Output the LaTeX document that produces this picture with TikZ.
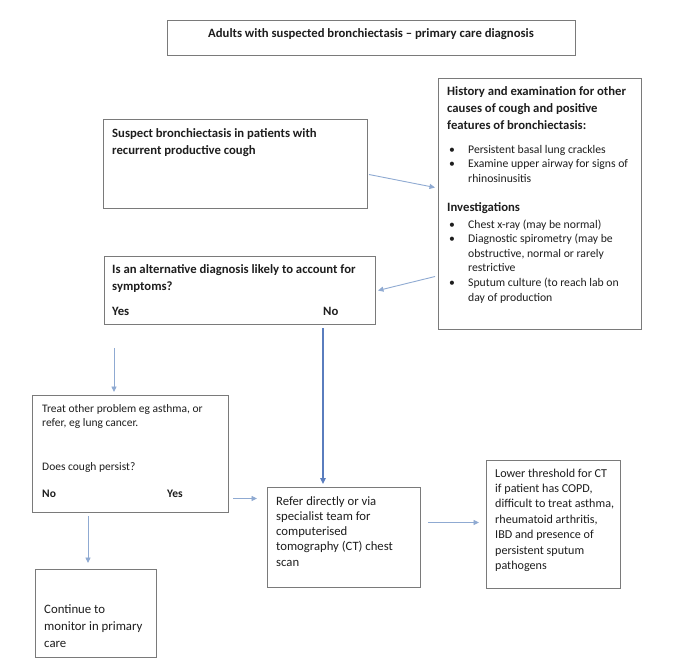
\documentclass[tikz,border=0pt]{standalone}
\usepackage{fontspec}
\setmainfont{Carlito}
\usetikzlibrary{arrows.meta}
\definecolor{boxgray}{HTML}{7A7A7A}
\definecolor{arrowblue}{HTML}{8FAAD2}
\definecolor{arrowdark}{HTML}{5A7DBE}
\definecolor{txt}{HTML}{1E1E1E}
\newcommand{\bitem}[1]{\makebox[19pt][l]{\textbullet}#1}
\newcommand{\bcont}[1]{\hspace*{19pt}#1}
\begin{document}
\begin{tikzpicture}[x=1pt,y=-1pt,
  box/.style={draw=boxgray, line width=1pt, inner sep=0pt, anchor=north west},
  arr/.style={draw=arrowblue, line width=0.9pt, -{Triangle[length=5.5pt,width=5pt]}},
  arrdark/.style={draw=arrowdark, line width=1.5pt, -{Triangle[length=6pt,width=5.5pt]}},
  bold12/.style={font=\fontsize{12.7}{17}\selectfont\bfseries, align=left, inner sep=0pt, anchor=base west, text=txt},
  reg11/.style={font=\fontsize{11.7}{14.6}\selectfont, align=left, inner sep=0pt, anchor=base west, text=txt},
  regtreat/.style={font=\fontsize{11.5}{14}\selectfont, align=left, inner sep=0pt, anchor=base west, text=txt},
  reg12/.style={font=\fontsize{12.7}{15.3}\selectfont, align=left, inner sep=0pt, anchor=base west, text=txt},
  reglow/.style={font=\fontsize{12.1}{15.4}\selectfont, align=left, inner sep=0pt, anchor=base west, text=txt},
  regcont/.style={font=\fontsize{12.8}{17}\selectfont, align=left, inner sep=0pt, anchor=base west, text=txt},
  boldtreat/.style={font=\fontsize{11.5}{14}\selectfont\bfseries, inner sep=0pt, anchor=base west, text=txt}
]
\useasboundingbox (0,0) rectangle (690,665);
\fill[white] (0,0) rectangle (690,665);

% boxes
\node[box, minimum width=408pt, minimum height=35pt] (title) at (167,20) {};
\node[box, minimum width=203pt, minimum height=251pt] (hist) at (438,78) {};
\node[box, minimum width=264pt, minimum height=89pt] (susp) at (103,119) {};
\node[box, minimum width=271pt, minimum height=68pt] (alt) at (104,256) {};
\node[box, minimum width=196pt, minimum height=117pt] (treat) at (32,395) {};
\node[box, minimum width=153pt, minimum height=100pt] (refer) at (267,487) {};
\node[box, minimum width=134pt, minimum height=128pt] (lower) at (486,460) {};
\node[box, minimum width=121pt, minimum height=88pt] (cont) at (35,569) {};

% texts (multi-line nodes: base anchor = baseline of last line)
\node[font=\fontsize{12.7}{17}\selectfont\bfseries, text=txt, inner sep=0pt, anchor=base] (titletxt) at (371,37) {Adults with suspected bronchiectasis – primary care diagnosis};

\node[bold12] (histhdr) at (447,129) {History and examination for other\\causes of cough and positive\\features of bronchiectasis:};
\node[reg11] (histb1) at (449,182.2) {\bitem{Persistent basal lung crackles}\\\bitem{Examine upper airway for signs of}\\\bcont{rhinosinusitis}};
\node[bold12] (inv) at (447,211) {Investigations};
\node[reg11] (histb2) at (449,301) {\bitem{Chest x-ray (may be normal)}\\\bitem{Diagnostic spirometry (may be}\\\bcont{obstructive, normal or rarely}\\\bcont{restrictive}\\\bitem{Sputum culture (to reach lab on}\\\bcont{day of production}};

\node[bold12] (susptxt) at (112,154) {Suspect bronchiectasis in patients with\\recurrent productive cough};

\node[bold12] (alttxt) at (112,290) {Is an alternative diagnosis likely to account for\\symptoms?};
\node[bold12] (altyes) at (112,315) {Yes};
\node[bold12] (altno) at (323,315) {No};

\node[regtreat] (treattxt) at (42,426) {Treat other problem eg asthma, or\\refer, eg lung cancer.};
\node[regtreat] (treatq) at (42,470) {Does cough persist?};
\node[boldtreat] (treatno) at (42,497) {No};
\node[boldtreat] (treatyes) at (167,497) {Yes};

\node[reg12] (refertxt) at (276,566.2) {Refer directly or via\\specialist team for\\computerised\\tomography (CT) chest\\scan};

\node[reglow] (lowertxt) at (495,569.4) {Lower threshold for CT\\if patient has COPD,\\difficult to treat asthma,\\rheumatoid arthritis,\\IBD and presence of\\persistent sputum\\pathogens};

\node[regcont] (conttxt) at (44,647) {Continue to\\monitor in primary\\care};

% arrows
\draw[arr] ([shift={(1,10.5)}]susp.east) -- ([shift={(-3,-16.5)}]hist.west);
\draw[arr] ([shift={(-3,72.5)}]hist.west) -- ([shift={(2,0)}]alt.east);
\draw[arr] ([shift={(10,23)}]alt.south west) -- ([shift={(82,-3)}]treat.north west);
\draw[arrdark] ([shift={(219,3)}]alt.south west) -- ([shift={(56,-3)}]refer.north west);
\draw[arr] ([shift={(4,44.5)}]treat.east) -- ([shift={(-10,-39)}]refer.west);
\draw[arr] ([shift={(56,3)}]treat.south west) -- ([shift={(53,-6)}]cont.north west);
\draw[arr] ([shift={(7,-15)}]refer.east) -- ([shift={(-7,-2)}]lower.west);
\end{tikzpicture}
\end{document}
